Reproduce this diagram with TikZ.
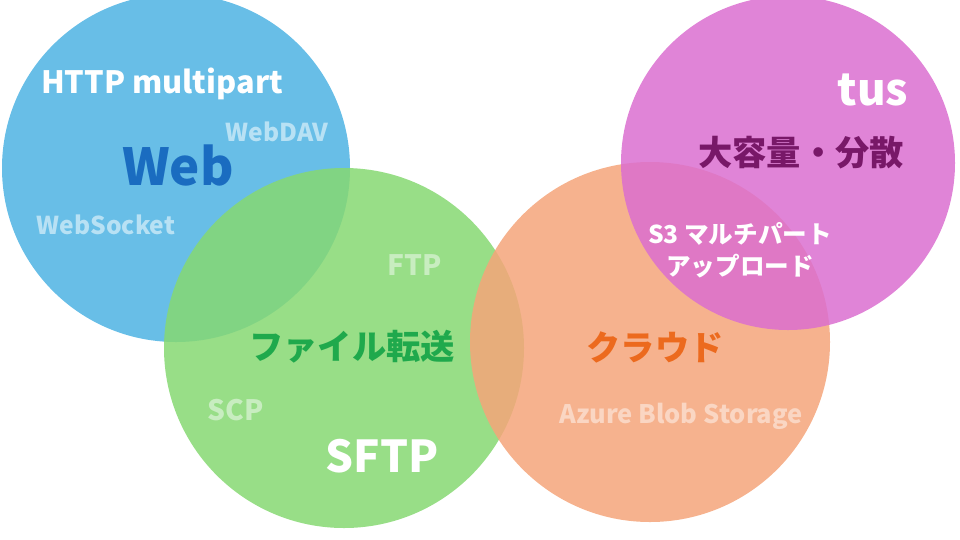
\documentclass[tikz,border=0pt]{standalone}
\usepackage{fontspec}
\setmainfont{Noto Sans CJK JP}
\usetikzlibrary{positioning}
\definecolor{webblue}{HTML}{4DB3E3}
\definecolor{ftpgreen}{HTML}{86D872}
\definecolor{cloudorange}{HTML}{F5A57A}
\definecolor{tusmagenta}{HTML}{DB6FD0}
\definecolor{webtext}{HTML}{1A6CC0}
\definecolor{ftptext}{HTML}{1FA94C}
\definecolor{cloudtext}{HTML}{EC6A1E}
\definecolor{tustext}{HTML}{781868}
\tikzset{
  area/.style={circle,fill=#1,fill opacity=0.85,draw=none},
  lbl/.style={font=\bfseries\fontsize{#1}{#1}\selectfont,inner sep=0pt},
}
\begin{document}
\begin{tikzpicture}[x=0.02cm,y=-0.02cm]
  \useasboundingbox (0,0) rectangle (960,539);
  \fill[area=webblue] (176,168) circle (174);
  \fill[area=ftpgreen] (344,348) circle (180);
  \fill[area=cloudorange] (650,342) circle (180);
  \fill[area=tusmagenta] (788,163) circle (167);
  \node[lbl=17.5pt,text=white] (http) at (162,84) {HTTP multipart};
  \node[lbl=14pt,text=white!60!webblue] (webdav) at (277,132) {WebDAV};
  \node[lbl=29pt,text=webtext] (web) at (178,165) {Web};
  \node[lbl=14pt,text=white!60!webblue] (websocket) at (106,225) {WebSocket};
  \node[lbl=16pt,text=white!55!ftpgreen] (ftp) at (415,265) {FTP};
  \node[lbl=19.5pt,text=ftptext] (transfer) at (352,347) {ファイル転送};
  \node[lbl=16pt,text=white!55!ftpgreen] (scp) at (236,410) {SCP};
  \node[lbl=25pt,text=white] (sftp) at (382,456) {SFTP};
  \node[lbl=19.5pt,text=cloudtext] (cloud) at (655,347) {クラウド};
  \node[lbl=14.5pt,text=white!55!cloudorange] (azure) at (681,416) {Azure Blob Storage};
  \node[lbl=25pt,text=white] (tus) at (873,90) {tus};
  \node[lbl=19.5pt,text=tustext] (large) at (801,153) {大容量・分散};
  \node[lbl=14pt,text=white,align=center,font=\bfseries\fontsize{14pt}{18pt}\selectfont] (s3) at (740,250) {S3 マルチパート\\アップロード};
\end{tikzpicture}
\end{document}
